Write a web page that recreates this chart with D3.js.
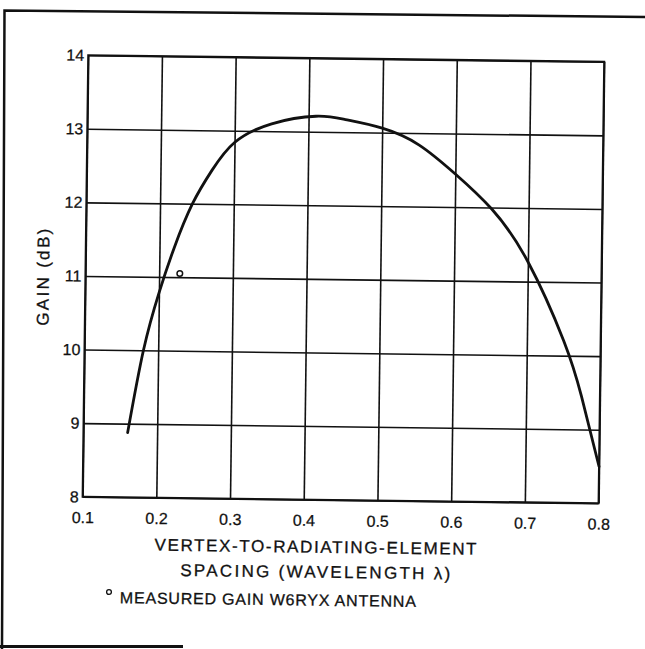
<!DOCTYPE html>
<html>
<head>
<meta charset="utf-8">
<script src="https://cdn.jsdelivr.net/npm/d3@7"></script>
<style>
  body { margin: 0; background: #fff; }
  svg { display: block; }
  text { font-family: "Liberation Sans", Arial, sans-serif; fill: #111; }
</style>
</head>
<body>
<svg id="chart" width="645" height="649"></svg>
<script>
// Computed gain versus vertex-to-radiating-element spacing
const spacing = [0.16, 0.18, 0.2, 0.22, 0.244, 0.27, 0.3, 0.35, 0.41, 0.45, 0.5, 0.55, 0.6, 0.65, 0.7, 0.75, 0.775, 0.8];
const gain    = [8.88, 10.0, 10.78, 11.4, 12.0, 12.46, 12.84, 13.1, 13.21, 13.17, 13.06, 12.84, 12.45, 11.98, 11.27, 10.2, 9.45, 8.5];

// Measured gain of the W6RYX antenna
const measuredSpacing = [0.228];
const measuredGain = [11.05];

// Axis ticks
const xTickValues = [0.1, 0.2, 0.3, 0.4, 0.5, 0.6, 0.7, 0.8];
const xTickLabels = ["0.1", "0.2", "0.3", "0.4", "0.5", "0.6", "0.7", "0.8"];
const yTickValues = [8, 9, 10, 11, 12, 13, 14];
const yTickLabels = ["8", "9", "10", "11", "12", "13", "14"];

// Text
const yTitle = "GAIN (dB)";
const xTitleLines = ["VERTEX-TO-RADIATING-ELEMENT", "SPACING (WAVELENGTH \u03BB)"];
const legendText = "MEASURED GAIN W6RYX ANTENNA";

const svg = d3.select("#chart");
const plot = { left: 85.4, right: 601.4, top: 58.5, bottom: 500 };
const W = plot.right - plot.left, H = plot.bottom - plot.top;

const x = d3.scaleLinear().domain([0.1, 0.8]).range([plot.left, plot.right]);
const y = d3.scaleLinear().domain([8, 14]).range([plot.bottom, plot.top]);

const ink = "#111";
const font = "\"Liberation Sans\", Arial, sans-serif";

// page border
svg.append("path")
  .attr("d", "M2,649 L4.5,10.5 L645,17")
  .attr("fill", "none").attr("stroke", ink).attr("stroke-width", 2.5);
svg.append("line")
  .attr("x1", 0).attr("x2", 183).attr("y1", 646.5).attr("y2", 646.5)
  .attr("stroke", ink).attr("stroke-width", 3);

// the chart sits slightly turned on the sheet
const root = svg.append("g").attr("transform", "rotate(0.73 343.4 279.25)");

// grid + tick labels
const xAxis = d3.axisBottom(x)
  .tickValues(xTickValues)
  .tickFormat((d, i) => xTickLabels[i])
  .tickSizeInner(-H).tickSizeOuter(0).tickPadding(15);
const gx = root.append("g").attr("transform", `translate(0,${plot.bottom})`).call(xAxis);
gx.select(".domain").remove();
gx.selectAll(".tick line").attr("stroke", ink).attr("stroke-width", 1.6);
gx.selectAll(".tick text")
  .attr("font-size", 16).attr("font-family", font)
  .attr("fill", ink).attr("stroke", ink).attr("stroke-width", 0.25);

const yAxis = d3.axisLeft(y)
  .tickValues(yTickValues)
  .tickFormat((d, i) => yTickLabels[i])
  .tickSizeInner(-W).tickSizeOuter(0).tickPadding(4);
const gy = root.append("g").attr("transform", `translate(${plot.left},0)`).call(yAxis);
gy.select(".domain").remove();
gy.selectAll(".tick line").attr("stroke", ink).attr("stroke-width", 1.6);
gy.selectAll(".tick text")
  .attr("font-size", 16).attr("font-family", font)
  .attr("fill", ink).attr("stroke", ink).attr("stroke-width", 0.25);

// plot frame
root.append("rect")
  .attr("x", plot.left).attr("y", plot.top).attr("width", W).attr("height", H)
  .attr("fill", "none").attr("stroke", ink).attr("stroke-width", 2);

// gain curve
const line = d3.line()
  .x((d, i) => x(spacing[i]))
  .y((d, i) => y(gain[i]))
  .curve(d3.curveNatural);
root.append("path")
  .datum(spacing)
  .attr("d", line)
  .attr("fill", "none").attr("stroke", ink).attr("stroke-width", 2.8)
  .attr("stroke-linecap", "round");

// measured point
root.selectAll(".measured")
  .data(measuredSpacing)
  .enter().append("circle")
  .attr("class", "measured")
  .attr("cx", (d, i) => x(d))
  .attr("cy", (d, i) => y(measuredGain[i]))
  .attr("r", 2.8)
  .attr("fill", "#fff").attr("stroke", ink).attr("stroke-width", 1.5);

// shared style for the lettering
function letter(sel, size) {
  return sel.attr("font-size", size).attr("font-family", font)
    .attr("fill", ink).attr("stroke", ink).attr("stroke-width", 0.3)
    .attr("lengthAdjust", "spacing");
}

// y axis title
letter(root.append("text"), 17)
  .attr("transform", "translate(49,281) rotate(-90)")
  .attr("text-anchor", "middle")
  .attr("textLength", 97)
  .text(yTitle);

// x axis title
letter(root.append("text"), 17)
  .attr("x", 158).attr("y", 553)
  .attr("textLength", 322)
  .text(xTitleLines[0]);
letter(root.append("text"), 17)
  .attr("x", 184).attr("y", 578)
  .attr("textLength", 270)
  .text(xTitleLines[1]);

// legend
root.append("circle")
  .attr("cx", 113).attr("cy", 595).attr("r", 2.4)
  .attr("fill", "#fff").attr("stroke", ink).attr("stroke-width", 1.3);
letter(root.append("text"), 16)
  .attr("x", 124).attr("y", 606)
  .attr("textLength", 296)
  .text(legendText);
</script>
</body>
</html>
